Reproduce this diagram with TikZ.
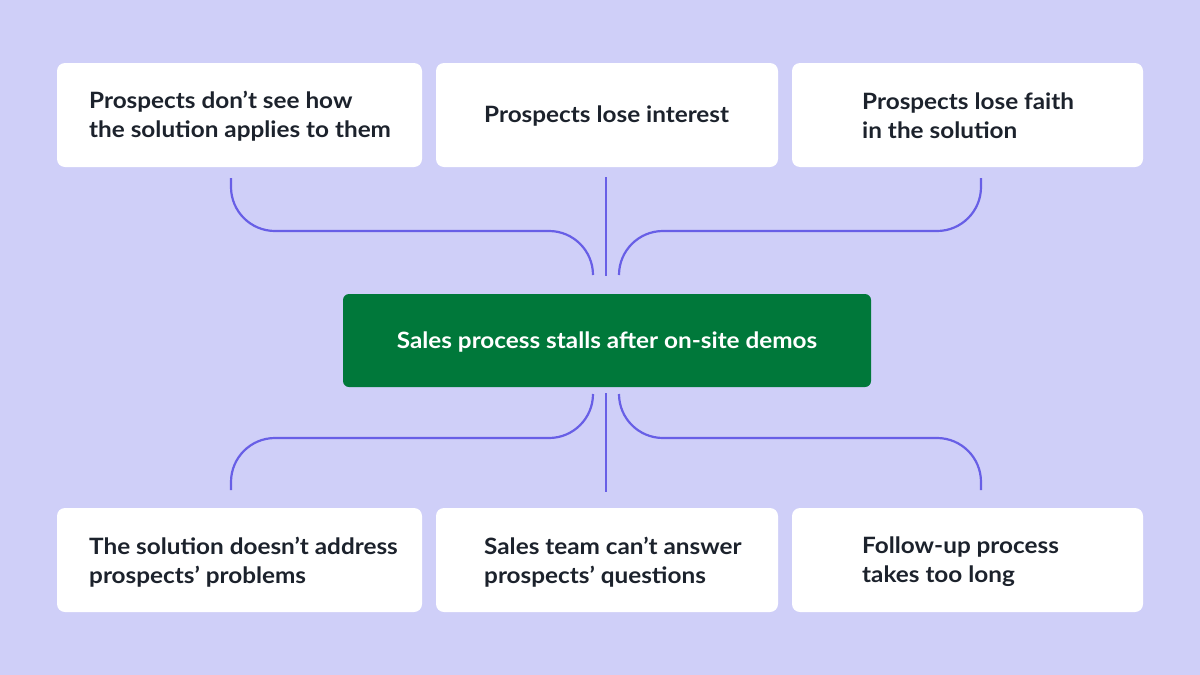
\documentclass[tikz,border=0pt]{standalone}
\usepackage{fontspec}
\setmainfont{Lato}[FakeStretch=1.08]
\usetikzlibrary{calc}
\definecolor{bgc}{RGB}{207,207,248}
\definecolor{linec}{RGB}{104,95,230}
\definecolor{greenc}{RGB}{0,120,58}
\definecolor{textc}{RGB}{28,34,44}
\tikzset{
  card/.style={fill=white, rounded corners=8pt, draw=none},
  maincard/.style={fill=greenc, rounded corners=6pt, draw=none},
  lbl/.style={anchor=west, inner sep=0pt, align=left, text=textc,
    font=\fontsize{22.5}{29}\selectfont\bfseries},
  mainlbl/.style={inner sep=0pt, text=white,
    font=\fontsize{22.5}{29}\selectfont\bfseries},
  conn/.style={draw=linec, line width=2.2pt, rounded corners=44pt}
}
\begin{document}
\begin{tikzpicture}[x=1pt,y=-1pt]
\fill[bgc] (0,0) rectangle (1200,675);
\useasboundingbox (0,0) rectangle (1200,675);
% top cards
\path[card] (57,63) rectangle (422,167);
\path[card] (436,63) rectangle (778,167);
\path[card] (792,63) rectangle (1143,167);
% bottom cards
\path[card] (57,508) rectangle (422,612);
\path[card] (436,508) rectangle (778,612);
\path[card] (792,508) rectangle (1143,612);
% center
\path[maincard] (343,294) rectangle (871,387);
\node[mainlbl] (m) at (607,342) {Sales process stalls after on-site demos};
% labels
\node[lbl] (t1) at (89,116) {Prospects don’t see how\\the solution applies to them};
\node[lbl] (t2) at (484,116) {Prospects lose interest};
\node[lbl] (t3) at (862,116) {Prospects lose faith\\in the solution};
\node[lbl] (b1) at (89,562) {The solution doesn’t address\\prospects’ problems};
\node[lbl] (b2) at (484,562) {Sales team can’t answer\\prospects’ questions};
\node[lbl] (b3) at (862,562) {Follow-up process\\takes too long};
% connector end points
\coordinate (t1s) at (231,178);
\coordinate (t2s) at (606,177);
\coordinate (t3s) at (981,178);
\coordinate (mtl) at (593,275);
\coordinate (mtc) at (606,276);
\coordinate (mtr) at (619,275);
\coordinate (mbl) at (593,394);
\coordinate (mbc) at (606,393);
\coordinate (mbr) at (619,394);
\coordinate (b1s) at (231,490);
\coordinate (b2s) at (606,492);
\coordinate (b3s) at (981,490);
% top connectors
\draw[conn] (t1s) -- (t1s |- 0,231) -- (mtl |- 0,231) -- (mtl);
\draw[conn] (t2s) -- (mtc);
\draw[conn] (t3s) -- (t3s |- 0,231) -- (mtr |- 0,231) -- (mtr);
% bottom connectors
\draw[conn] (mbl) -- (mbl |- 0,438) -- (b1s |- 0,438) -- (b1s);
\draw[conn] (mbc) -- (b2s);
\draw[conn] (mbr) -- (mbr |- 0,438) -- (b3s |- 0,438) -- (b3s);
\end{tikzpicture}
\end{document}
